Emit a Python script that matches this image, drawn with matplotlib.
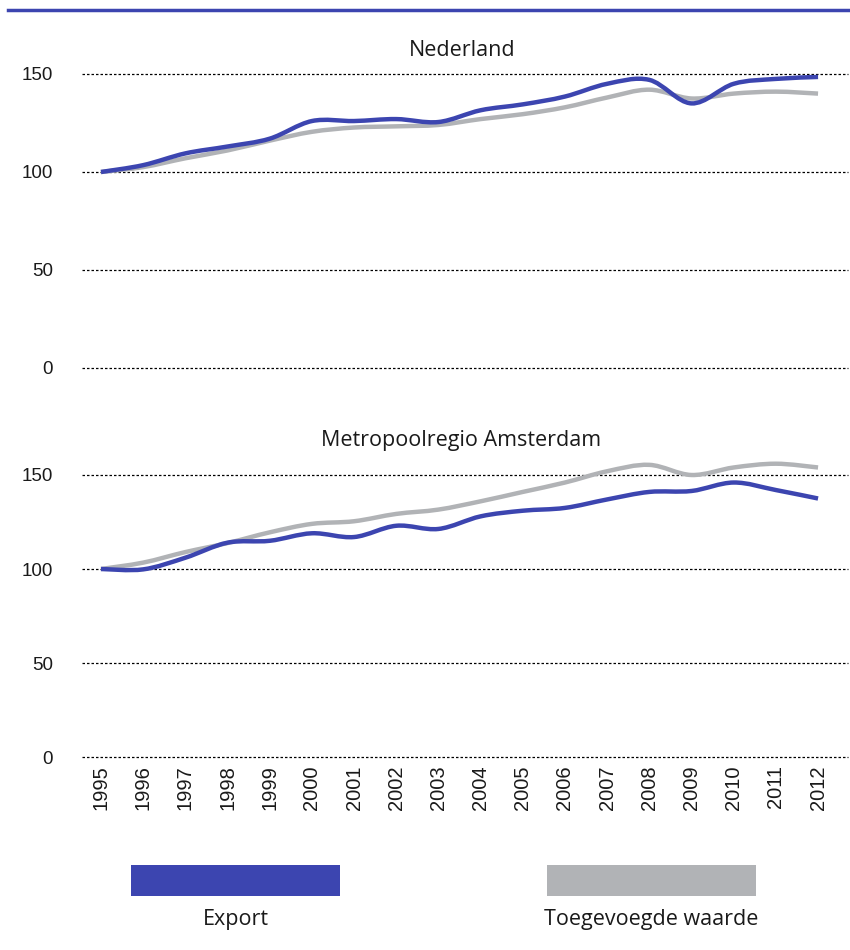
import matplotlib
matplotlib.use("Agg")
import matplotlib.pyplot as plt
from matplotlib.path import Path
from matplotlib.patches import PathPatch, Rectangle
import numpy as np

years = list(range(1995, 2013))
nl_export = [100, 103.5, 109.5, 113, 117, 126, 126, 127, 125.5, 131.5, 134.5, 138.5, 145, 147, 135, 145, 147.5, 148.5]
nl_tw = [100, 102.5, 107, 111, 116, 120.5, 122.7, 123.3, 124, 127, 129.5, 133, 138, 142, 137.5, 140, 141, 140]
mra_export = [100, 99.8, 106, 114, 115, 119, 117, 123, 121.3, 128, 131, 132.5, 137, 141, 141.5, 146, 142, 137.5]
mra_tw = [100, 103.4, 109, 113.8, 119.5, 124, 125.4, 129.3, 131.6, 136, 141, 146, 152, 155.4, 150, 154, 156, 154]
yticks = [0, 50, 100, 150]
titles = ["Nederland", "Metropoolregio Amsterdam"]
legend_labels = ["Export", "Toegevoegde waarde"]

BLUE = "#3C45B0"
GRAY = "#B1B3B6"
W, H = 850, 950
TXT = "Open Sans"

fig = plt.figure(figsize=(8.5, 9.5), dpi=100)


def smooth_path(x, y):
    x = np.asarray(x, float)
    y = np.asarray(y, float)
    pts = np.column_stack([x, y])
    n = len(pts)
    verts = [pts[0]]
    codes = [Path.MOVETO]
    for i in range(n - 1):
        p0 = pts[i - 1] if i > 0 else pts[i]
        p1 = pts[i]
        p2 = pts[i + 1]
        p3 = pts[i + 2] if i + 2 < n else pts[i + 1]
        c1 = p1 + (p2 - p0) / 6.0
        c2 = p2 - (p3 - p1) / 6.0
        verts += [c1, c2, p2]
        codes += [Path.CURVE4] * 3
    return Path(verts, codes)


def make_ax(top_px, zero_px, ymax):
    left = 82 / W
    width = (848 - 82) / W
    bottom = (H - zero_px) / H
    height = (zero_px - top_px) / H
    ax = fig.add_axes([left, bottom, width, height])
    ax.set_xlim(1994.55, 2012.71)
    ax.set_ylim(0, ymax)
    for s in ax.spines.values():
        s.set_visible(False)
    ax.set_yticks(yticks)
    ax.set_yticklabels([str(v) for v in yticks], fontsize=13.5,
                       fontfamily="Liberation Sans", color="#1a1a1a")
    ax.tick_params(axis="y", length=0, pad=21)
    for v in yticks:
        ax.axhline(v, color="black", lw=0.9, ls=(0, (2, 1.6)), zorder=1, clip_on=False)
    ax.set_facecolor("none")
    return ax


ax1 = make_ax(74, 368, 150)
ax2 = make_ax(475 - 10 * 1.88, 757, 160)

for ax, exp, tw in [(ax1, nl_export, nl_tw), (ax2, mra_export, mra_tw)]:
    for data, col, z in [(tw, GRAY, 3), (exp, BLUE, 4)]:
        p = PathPatch(smooth_path(years, data), facecolor="none", edgecolor=col,
                      lw=3.2, zorder=z, clip_on=False, capstyle="butt", joinstyle="round")
        ax.add_patch(p)

ax1.set_xticks([])
ax2.set_xticks(years)
ax2.set_xticklabels([str(y) for y in years], rotation=90, fontsize=14.5,
                    fontfamily="Liberation Sans", color="#1a1a1a", va="top")
ax2.tick_params(axis="x", length=0, pad=6)

fig.text(462 / W, 1 - 51 / H, titles[0], ha="center", va="center",
         fontsize=15.5, fontfamily=TXT, color="#1a1a1a")
fig.text(461 / W, 1 - 441 / H, titles[1], ha="center", va="center",
         fontsize=15.5, fontfamily=TXT, color="#1a1a1a")

# top rule
fig.add_artist(plt.Line2D([8 / W, 1.0], [1 - 10 / H, 1 - 10 / H], color=BLUE, lw=2.5))

# legend
for (x0, x1), col, lab in [((131, 340), BLUE, legend_labels[0]), ((547, 756), GRAY, legend_labels[1])]:
    fig.add_artist(Rectangle((x0 / W, 1 - 896 / H), (x1 - x0) / W, 31 / H,
                             facecolor=col, edgecolor="none", transform=fig.transFigure))
    fig.text((x0 + x1) / 2 / W, 1 - 919 / H, lab, ha="center", va="center",
             fontsize=15.5, fontfamily=TXT, color="#1a1a1a")

fig.savefig("out.png", dpi=100)
